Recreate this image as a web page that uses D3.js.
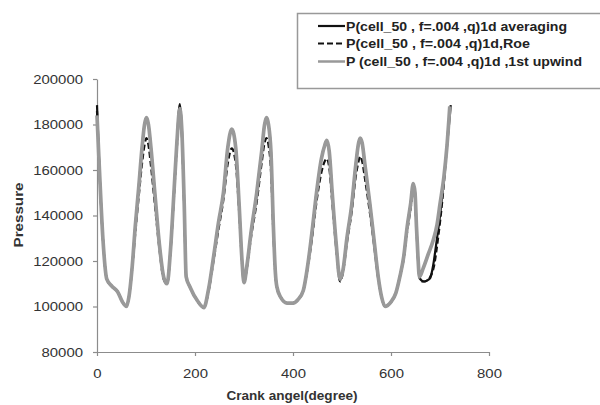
<!DOCTYPE html>
<html>
<head>
<meta charset="utf-8">
<script src="https://cdn.jsdelivr.net/npm/d3@7"></script>
<style>
  body { margin: 0; background: #fff; }
  svg { font-family: "Liberation Sans", Arial, sans-serif; }
</style>
</head>
<body>
<svg width="600" height="405"></svg>
<script>
// values
var upwindAngle = [0,5,12,20,30,42,52,60,65,72,78,85,92,97,101,105,110,118,127,136,143,150,157,163,169,173,178,182,190,205,218,228,237,248,258,267,275,283,290,296,300,306,314,326,336,342,346,350,355,360,364,367,375,388,400,410,421,430,440,448,458,465,469,474,480,488,496,502,510,520,528,534,537,541,547,557,566,574,581,588,600,610,618,626,633,640,645.5,649,652,655,658,666,676,686,694,700,708,714,720];
var upwindP = [184000,160000,130000,112000,109000,106500,102000,100000,104000,118000,135000,152000,170000,180000,183000,180000,170000,150000,128000,113000,110000,125000,150000,172000,187000,178000,145000,113000,108500,102500,99500,108000,120500,137000,150000,170000,178000,170000,145000,120000,110500,118000,132000,150000,168000,180000,183000,180000,168000,135000,115000,108700,104000,101500,101500,103000,107000,118000,135000,150000,165000,171000,173000,168000,150000,128000,112000,116000,130000,145000,162000,172000,174000,172000,162000,145000,128000,113000,104000,100000,102000,106000,113000,122000,135000,145000,154000,150000,135000,122000,113000,117000,123000,129000,136000,145000,157000,170000,188000];

var roeAngle = [0,5,12,20,30,42,52,60,65,72,78,85,92,97,101,105,110,118,127,136,143,150,157,163,169,173,178,182,190,205,218,228,237,248,258,267,275,283,290,296,300,306,314,326,336,342,346,350,355,360,364,367,375,388,400,410,421,430,440,448,458,465,469,474,480,488,496,502,510,520,528,534,537,541,547,557,566,574,581,588,600,610,618,626,633,640,645.5,649,652,655,658,662,668,674,680,688,696,704,711,717];
var roeP = [186000,160000,130000,112000,109000,106500,102000,100000,104000,117000,132000,148000,163000,171000,174000,171000,162000,145000,126000,112000,110000,124000,148000,170000,185000,176000,143000,113000,108500,102500,99500,107000,119000,134000,147000,163000,169500,163000,142000,119000,110500,117000,130000,146000,163000,172000,174000,171000,160000,132000,114000,108700,104000,101500,101500,103000,107000,117000,132000,146000,159000,164000,165000,161000,146000,126000,111000,115000,128000,142000,157000,164000,166000,164000,156000,141000,126000,112000,104000,100000,102000,106000,113000,121000,133000,143000,152000,148000,134000,121000,113000,111000,111000,111500,113000,118000,130000,145000,162000,179000];

var avgAngle = [0,5,12,20,30,42,52,60,65,72,78,85,92,97,101,105,110,118,127,136,143,150,157,163,169,173,178,182,190,205,218,228,237,248,258,267,275,283,290,296,300,306,314,326,336,342,346,350,355,360,364,367,375,388,400,410,421,430,440,448,458,465,469,474,480,488,496,502,510,520,528,534,537,541,547,557,566,574,581,588,600,610,618,626,633,640,645.5,649,652,655,658,662,668,674,680,686,692,700,708,715,722];
var avgP = [188500,160000,130000,112000,109000,106500,102000,100000,104000,118000,135000,152000,170000,180000,183000,180000,170000,150000,128000,113000,110000,125000,150000,172000,189000,179000,145000,113000,108500,102500,99500,108000,120500,137000,150000,170000,178000,170000,145000,120000,110500,118000,132000,150000,168000,180000,183000,180000,168000,135000,115000,108700,104000,101500,101500,103000,107000,118000,135000,150000,165000,171000,173000,168000,150000,128000,111500,116000,130000,145000,162000,172000,174000,172000,162000,145000,128000,113000,104000,100000,102000,106000,113000,122000,135000,145000,154000,150000,135000,122000,113000,111500,111000,111500,112500,118000,127000,140000,156000,172000,188500];

var xTicks = [0, 200, 400, 600, 800];
var yTicks = [80000, 100000, 120000, 140000, 160000, 180000, 200000];

var names = ["P(cell_50 , f=.004 ,q)1d averaging", "P(cell_50 , f=.004 ,q)1d,Roe", "P (cell_50 , f=.004 ,q)1d ,1st upwind"];

var svg = d3.select("svg");
var x = d3.scaleLinear().domain([0, 800]).range([97, 489]);
var y = d3.scaleLinear().domain([80000, 200000]).range([352, 79]);

var xAxis = svg.append("g").attr("transform", "translate(0,352)")
  .call(d3.axisBottom(x).tickValues(xTicks).tickSize(4).tickSizeOuter(0).tickPadding(13));
var yAxis = svg.append("g").attr("transform", "translate(97,0)")
  .call(d3.axisLeft(y).tickValues(yTicks).tickSize(4).tickSizeOuter(0).tickPadding(10).tickFormat(d3.format("d")));
[xAxis, yAxis].forEach(function(a) {
  a.select(".domain").attr("stroke", "#8c8c8c").attr("stroke-width", 1.2);
  a.selectAll(".tick line").attr("stroke", "#8c8c8c").attr("stroke-width", 1.2);
  a.selectAll(".tick text").attr("fill", "#333").style("font-size", "12.5px")
    .attr("textLength", function() { return this.textContent.length * 8.3; })
    .attr("lengthAdjust", "spacingAndGlyphs");
});

var line = d3.line()
  .x(function(d) { return x(d[0]); })
  .y(function(d) { return y(d[1]); })
  .curve(d3.curveMonotoneX);

function pairs(a, p) { return a.map(function(v, i) { return [v, p[i]]; }); }

svg.append("path").attr("d", line(pairs(avgAngle, avgP)))
  .attr("fill", "none").attr("stroke", "#111").attr("stroke-width", 2.2);
svg.append("path").attr("d", line(pairs(roeAngle, roeP)))
  .attr("fill", "none").attr("stroke", "#111").attr("stroke-width", 2.2)
  .attr("stroke-dasharray", "6,3");
svg.append("path").attr("d", line(pairs(upwindAngle, upwindP)))
  .attr("fill", "none").attr("stroke", "#999").attr("stroke-width", 3.7);

// axis titles
svg.append("text").attr("x", 292).attr("y", 400).attr("text-anchor", "middle")
  .style("font-size", "12.5px").style("font-weight", "bold").attr("fill", "#333")
  .attr("textLength", 131).attr("lengthAdjust", "spacingAndGlyphs")
  .text("Crank angel(degree)");
svg.append("text").attr("transform", "translate(23,215) rotate(-90)").attr("text-anchor", "middle")
  .style("font-size", "12.5px").style("font-weight", "bold").attr("fill", "#333")
  .attr("textLength", 65).attr("lengthAdjust", "spacingAndGlyphs")
  .text("Pressure");

// legend
var lg = svg.append("g");
lg.append("rect").attr("x", 297.5).attr("y", 13.5).attr("width", 310).attr("height", 75)
  .attr("fill", "#fff").attr("stroke", "#999").attr("stroke-width", 1.5);
var styles = [
  {c: "#111", w: 2.2, dash: null},
  {c: "#111", w: 2.2, dash: "6,3"},
  {c: "#999", w: 2.5, dash: null}
];
var rowY = [26, 43.5, 61.5];
var legendLen = [221, 184, 236];
names.forEach(function(n, i) {
  lg.append("line").attr("x1", 318).attr("x2", 345).attr("y1", rowY[i]).attr("y2", rowY[i])
    .attr("stroke", styles[i].c).attr("stroke-width", styles[i].w)
    .attr("stroke-dasharray", styles[i].dash);
  lg.append("text").attr("x", 346).attr("y", rowY[i] + 4.5)
    .style("font-size", "12.5px").style("font-weight", "bold").attr("fill", "#222")
    .attr("textLength", legendLen[i]).attr("lengthAdjust", "spacingAndGlyphs")
    .text(n);
});
</script>
</body>
</html>
